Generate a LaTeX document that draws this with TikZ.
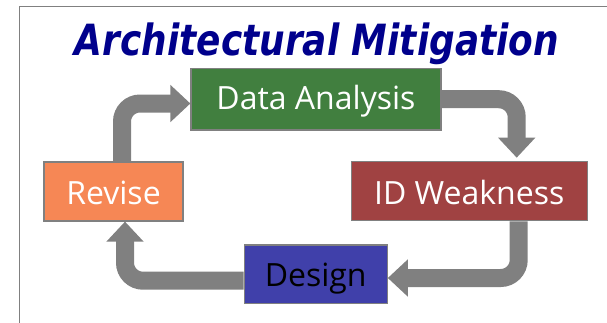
\documentclass[tikz,border=0pt]{standalone}
\usepackage{fontspec}
\setmainfont{Open Sans}
\newfontfamily\titlefont{DejaVu Sans}
\usetikzlibrary{arrows.meta,positioning}

\definecolor{titleblue}{RGB}{0,0,140}
\definecolor{framegray}{RGB}{128,128,128}
\definecolor{arrowgray}{RGB}{128,128,128}
\definecolor{dagreen}{RGB}{65,127,63}
\definecolor{idred}{RGB}{160,66,66}
\definecolor{revorange}{RGB}{246,135,85}
\definecolor{desblue}{RGB}{64,64,170}

\begin{document}
\begin{tikzpicture}[x=1pt,y=-1pt,
  stagebox/.style={draw=framegray,line width=1.2pt,inner sep=0pt,
    font=\fontsize{32}{34}\selectfont,text height=25pt,text depth=0pt},
  flow/.style={draw=arrowgray,line width=18pt,rounded corners=18pt,
    -{Triangle[width=36pt,length=20pt]}}]
  \useasboundingbox (0,0) rectangle (607,322);

  % frame
  \draw[framegray,line width=1.6pt] (19.5,330) -- (19.5,6.5) -- (620,6.5);

  % title
  \node[text=titleblue,anchor=base] (title) at (317,55)
    {\scalebox{0.835}[1]{\titlefont\bfseries\itshape\fontsize{43}{46}\selectfont Architectural Mitigation}};

  % stages
  \node[stagebox,fill=dagreen,text=white,minimum width=250pt,minimum height=61.5pt,
        text height=20pt] (da) at (316,99.2) {Data Analysis};
  \node[stagebox,fill=idred,text=white,minimum width=236pt,minimum height=59pt,
        text height=26pt] (idw) at (469.2,191.2) {ID Weakness};
  \node[stagebox,fill=revorange,text=white,minimum width=139pt,minimum height=59pt,
        text height=25.6pt] (rev) at (113.5,191.5) {Revise};
  \node[stagebox,fill=desblue,text=black,minimum width=143pt,minimum height=58.3pt]
        (des) at (315.7,274.2) {Design};

  % cycle arrows
  \draw[flow] ([xshift=8.5pt]rev.north) |- ([yshift=-4.3pt]da.west);
  \draw[flow,shorten >=3.4pt] (da.east) -| ([xshift=47.5pt]idw.north);
  \draw[flow] ([xshift=49.5pt]idw.south) |- ([yshift=-3.8pt]des.east);
  \draw[flow] ([yshift=-6.5pt]des.west) -| ([xshift=11.5pt]rev.south);
\end{tikzpicture}
\end{document}
